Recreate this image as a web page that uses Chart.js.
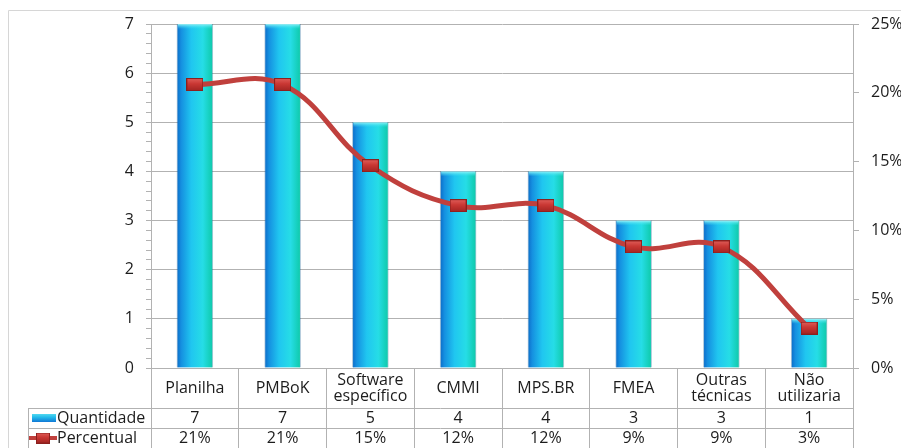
<!DOCTYPE html>
<html>
<head>
<meta charset="utf-8">
<script src="https://cdn.jsdelivr.net/npm/chart.js@4.4.1/dist/chart.umd.min.js"></script>
<style>
  html, body { margin: 0; padding: 0; background: #fff; }
  #wrap { width: 901px; height: 448px; position: relative; }
</style>
</head>
<body>
<div id="wrap"><canvas id="chart" width="901" height="448"></canvas></div>
<script>
// Ferramentas citadas, quantidade de respostas e percentual sobre o total
const categories = [['Planilha'], ['PMBoK'], ['Software', 'específico'], ['CMMI'], ['MPS.BR'], ['FMEA'], ['Outras', 'técnicas'], ['Não', 'utilizaria']];
const quantidade = [7, 7, 5, 4, 4, 3, 3, 1];
const percentual = [20.6, 20.6, 14.7, 11.8, 11.8, 8.8, 8.8, 2.9];
const seriesNames = ['Quantidade', 'Percentual'];
const countAxis = { min: 0, max: 7, minorPerUnit: 5 };
const percentAxis = { min: 0, max: 25, step: 5 };

const FONT = "'Open Sans', 'Noto Sans', sans-serif";
const FONT_SIZE = 16;
const TEXT = '#1c1c1c';
const GRID = '#b2b2b2';
const FRAME = '#d6d6d6';
const LINE_RED = '#c0403d';
const BAR_W = 36;

Chart.defaults.font.family = FONT;
Chart.defaults.font.size = FONT_SIZE;
Chart.defaults.color = TEXT;
Chart.defaults.animation = false;

const isWhole = v => Math.abs(v - Math.round(v)) < 1e-6;

// horizontal "cylinder" shading for each bar
function barFill(c) {
  const chart = c.chart;
  const xs = chart.scales && chart.scales.x;
  if (c.type !== 'data' || !xs) return '#22c3ec';
  const cx = xs.getPixelForValue(c.dataIndex);
  if (!Number.isFinite(cx)) return '#22c3ec';
  const g = chart.ctx.createLinearGradient(cx - BAR_W / 2, 0, cx + BAR_W / 2, 0);
  g.addColorStop(0, '#0c6bc8');
  g.addColorStop(0.12, '#1590e0');
  g.addColorStop(0.4, '#20c6f0');
  g.addColorStop(0.72, '#26dde6');
  g.addColorStop(1, '#0ec9a8');
  return g;
}

// square marker with a vertical red shading
function makeMarker(w, h) {
  const cv = document.createElement('canvas');
  cv.width = w; cv.height = h;
  const g = cv.getContext('2d');
  const gr = g.createLinearGradient(0, 0, 0, h);
  gr.addColorStop(0, '#e0605b');
  gr.addColorStop(0.45, '#c93733');
  gr.addColorStop(1, '#a02421');
  g.fillStyle = gr;
  g.fillRect(0, 0, w, h);
  g.strokeStyle = '#8c201e';
  g.lineWidth = 1;
  g.strokeRect(0.5, 0.5, w - 1, h - 1);
  return cv;
}
const marker = makeMarker(17, 13);
const keyMarker = makeMarker(14, 11);

// outer frame, table grid, data rows and series keys
const tablePlugin = {
  id: 'tablePlugin',
  beforeDraw(chart) {
    const ctx = chart.ctx;
    ctx.save();
    ctx.strokeStyle = FRAME;
    ctx.lineWidth = 1;
    ctx.beginPath();
    ctx.moveTo(8.5, 448);
    ctx.lineTo(8.5, 10.5);
    ctx.lineTo(901, 10.5);
    ctx.stroke();
    ctx.restore();
  },
  afterDatasetDraw(chart, args) {
    // light rim on the top of each bar
    if (args.meta.type !== 'bar') return;
    const ctx = chart.ctx;
    ctx.save();
    args.meta.data.forEach(bar => {
      if (!Number.isFinite(bar.x) || !Number.isFinite(bar.y)) return;
      const l = bar.x - bar.width / 2, r = bar.x + bar.width / 2, t = bar.y;
      const g = ctx.createLinearGradient(0, t, 0, t + 5);
      g.addColorStop(0, 'rgba(150,245,250,0.95)');
      g.addColorStop(1, 'rgba(60,225,240,0)');
      ctx.fillStyle = g;
      ctx.fillRect(l + 1, t, r - l - 2, 5);
    });
    ctx.restore();
  },
  afterDraw(chart) {
    const ctx = chart.ctx;
    const xs = chart.scales.x;
    const area = chart.chartArea;
    const rowA = area.bottom + 40, rowB = rowA + 20, rowEnd = rowB + 20;
    const leftCol = 28;
    ctx.save();
    ctx.strokeStyle = GRID;
    ctx.lineWidth = 1;
    ctx.beginPath();
    ctx.moveTo(leftCol, rowA + 0.5); ctx.lineTo(area.right, rowA + 0.5);
    ctx.moveTo(leftCol, rowB + 0.5); ctx.lineTo(area.right, rowB + 0.5);
    ctx.moveTo(leftCol + 0.5, rowA); ctx.lineTo(leftCol + 0.5, rowEnd);
    ctx.stroke();

    ctx.font = FONT_SIZE + 'px ' + FONT;
    ctx.fillStyle = TEXT;
    ctx.textAlign = 'center';
    ctx.textBaseline = 'middle';
    quantidade.forEach((v, i) => {
      const cx = xs.getPixelForValue(i);
      ctx.fillText(String(v), cx, rowA + 10);
      ctx.fillText(Math.round(percentual[i]) + '%', cx, rowB + 10);
    });

    // series keys
    const kg = ctx.createLinearGradient(0, rowA + 5, 0, rowA + 14);
    kg.addColorStop(0, '#5fe3f2');
    kg.addColorStop(0.5, '#22b8ea');
    kg.addColorStop(1, '#1178d6');
    ctx.fillStyle = kg;
    ctx.fillRect(32, rowA + 6, 24, 8);
    ctx.strokeStyle = LINE_RED;
    ctx.lineWidth = 4;
    ctx.beginPath();
    ctx.moveTo(29, rowB + 10); ctx.lineTo(57, rowB + 10);
    ctx.stroke();
    ctx.drawImage(keyMarker, 43 - 7, rowB + 10 - 5.5);

    ctx.fillStyle = TEXT;
    ctx.textAlign = 'left';
    ctx.fillText(seriesNames[0], 57, rowA + 10);
    ctx.fillText(seriesNames[1], 57, rowB + 10);
    ctx.restore();
  }
};

const minorTicks = [];
for (let i = countAxis.min * countAxis.minorPerUnit; i <= countAxis.max * countAxis.minorPerUnit; i++) {
  minorTicks.push(i / countAxis.minorPerUnit);
}

new Chart(document.getElementById('chart'), {
  data: {
    labels: categories,
    datasets: [
      {
        type: 'line',
        label: seriesNames[1],
        data: percentual,
        yAxisID: 'y1',
        order: 0,
        borderColor: LINE_RED,
        borderWidth: 5,
        tension: 0.4,
        fill: false,
        pointStyle: marker,
        pointRadius: 8,
        pointHoverRadius: 8
      },
      {
        type: 'bar',
        label: seriesNames[0],
        data: quantidade,
        yAxisID: 'y',
        order: 1,
        backgroundColor: barFill,
        borderColor: 'rgba(30,100,150,0.35)',
        borderWidth: { left: 1, right: 1, top: 1, bottom: 0 },
        barThickness: BAR_W
      }
    ]
  },
  options: {
    responsive: false,
    events: [],
    layout: { padding: { top: 24, left: 0, right: 0, bottom: 0 } },
    plugins: { legend: { display: false }, tooltip: { enabled: false } },
    scales: {
      x: {
        offset: true,
        grid: { offset: true, drawOnChartArea: false, tickLength: 80, color: GRID, tickColor: GRID },
        border: { color: GRID },
        ticks: { padding: -68, crossAlign: 'center', maxRotation: 0, autoSkip: false,
                 font: { size: FONT_SIZE, lineHeight: 1.05 }, color: TEXT },
        afterFit(s) { s.height = 80; }
      },
      y: {
        position: 'left',
        min: countAxis.min,
        max: countAxis.max,
        afterBuildTicks(s) { s.ticks = minorTicks.map(v => ({ value: v })); },
        ticks: { autoSkip: false, padding: 12, color: TEXT, font: { size: FONT_SIZE },
                 callback: v => (isWhole(v) ? String(Math.round(v)) : '') },
        grid: {
          color: c => (c.tick && isWhole(c.tick.value) ? GRID : 'rgba(0,0,0,0)'),
          tickColor: GRID,
          tickLength: 5
        },
        border: { color: GRID },
        afterFit(s) { s.width = 151; }
      },
      y1: {
        position: 'right',
        min: percentAxis.min,
        max: percentAxis.max,
        ticks: { stepSize: percentAxis.step, padding: 12, color: TEXT, font: { size: FONT_SIZE },
                 callback: v => v + '%' },
        grid: { drawOnChartArea: false, tickLength: 6, color: GRID },
        border: { color: GRID },
        afterFit(s) { s.width = 48; }
      }
    }
  },
  plugins: [tablePlugin]
});
</script>
</body>
</html>
